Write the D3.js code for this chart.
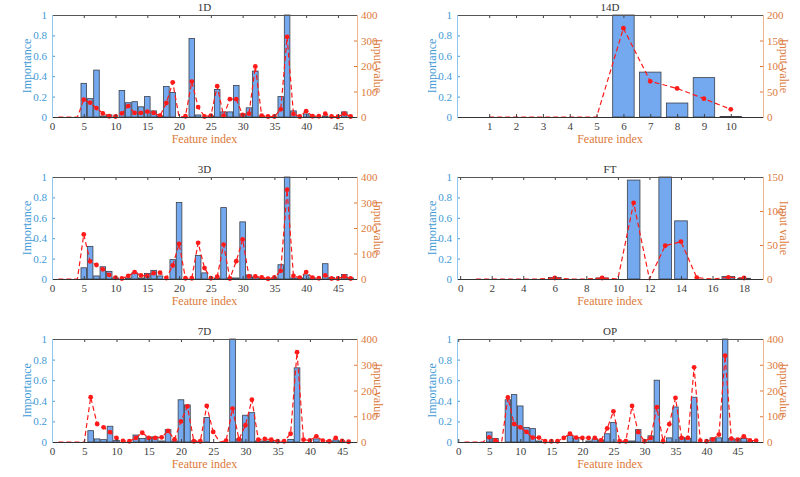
<!DOCTYPE html>
<html>
<head>
<meta charset="utf-8">
<script src="https://cdn.jsdelivr.net/npm/d3@7"></script>
<style>
  body { margin: 0; background: #fff; }
  svg { display: block; }
  svg text { font-family: "Liberation Serif", "Times New Roman", Times, serif !important; }
</style>
</head>
<body>
<div id="app"></div>
<script>
// importance (bars, left axis) and input value (red dashed, right axis), feature index = position + 1
const imp1D = [0, 0, 0, 0, 0.33, 0.18, 0.46, 0.01, 0.02, 0, 0.26, 0.14, 0.15, 0.10, 0.20, 0.06, 0.01, 0.30, 0.24, 0,
  0, 0.77, 0.02, 0, 0.01, 0.27, 0.05, 0.05, 0.31, 0.03, 0.09, 0.45, 0.01, 0, 0, 0.20, 1.0, 0.06, 0, 0.03,
  0.01, 0, 0.01, 0, 0, 0.05, 0];
const inp1D = [0, 0, 0, 0, 68, 56, 35, 14, 3, 2, 14, 43, 16, 16, 21, 16, 5, 55, 136, 0,
  3, 139, 39, 2, 5, 121, 5, 70, 70, 8, 13, 198, 5, 2, 2, 30, 314, 12, 2, 23,
  3, 3, 13, 2, 1, 13, 2];

const imp14D = [0, 0, 0, 0, 0, 1.0, 0.44, 0.137, 0.386, 0.005];
const inp14D = [0, 0, 0, 0, 0, 174, 70, 56, 36, 15];

const imp3D = [0, 0, 0, 0, 0.11, 0.32, 0.03, 0.12, 0.075, 0.01, 0, 0.01, 0.06, 0.01, 0.055, 0.085, 0.03, 0, 0.19, 0.75,
  0, 0, 0.23, 0.06, 0, 0.01, 0.70, 0.01, 0.01, 0.56, 0.04, 0.02, 0.01, 0, 0.01, 0.14, 1.0, 0.01, 0.01, 0.04,
  0.01, 0, 0.15, 0.015, 0, 0.045, 0.01];
const inp3D = [0, 0, 0, 0, 175, 69, 55, 38, 16, 5, 2, 12, 27, 14, 12, 23, 25, 4, 53, 138,
  3, 3, 142, 43, 3, 9, 135, 2, 70, 155, 10, 10, 6, 1, 6, 32, 350, 12, 5, 27,
  5, 3, 14, 2, 2, 10, 2];

const impFT = [0, 0, 0, 0, 0, 0.015, 0, 0, 0.01, 0, 0.97, 0, 1.0, 0.57, 0, 0, 0.025, 0.007];
const inpFT = [0, 0, 0, 0, 0, 1.5, 0, 0, 1.5, 0, 112, 0, 49, 55, 2, 0, 2.5, 1.5];

const imp7D = [0, 0, 0, 0, 0, 0.11, 0.03, 0.023, 0.153, 0.015, 0, 0, 0.068, 0.035, 0.05, 0.05, 0.01, 0.12, 0.01, 0.41,
  0.36, 0.01, 0, 0.237, 0, 0, 0, 1.0, 0.03, 0.26, 0.285, 0.01, 0.01, 0.01, 0, 0, 0.025, 0.72, 0, 0,
  0.03, 0, 0.01, 0.02, 0.01, 0];
const inp7D = [0, 0, 0, 0, 0, 174, 70, 57, 38, 16, 4, 3, 16, 36, 16, 16, 18, 43, 10, 80,
  138, 3, 3, 140, 39, 0, 5, 130, 10, 65, 164, 9, 12, 9, 3, 3, 32, 349, 9, 6,
  22, 5, 3, 16, 4, 1];

const impOP = [0, 0, 0, 0, 0.097, 0.035, 0, 0.41, 0.46, 0.35, 0.14, 0.13, 0.01, 0, 0, 0, 0, 0.065, 0.04, 0,
  0.01, 0.03, 0.02, 0.08, 0.19, 0, 0.01, 0.01, 0.12, 0, 0.06, 0.60, 0, 0.04, 0.34, 0.045, 0.035, 0.435, 0, 0,
  0.04, 0.04, 1.0, 0.035, 0.025, 0.035, 0.01, 0];
const inpOP = [0, 0, 0, 0, 18, 6, 0, 173, 70, 57, 39, 17, 17, 3, 3, 3, 16, 32, 17, 16,
  16, 16, 6, 53, 119, 3, 3, 140, 38, 3, 16, 135, 3, 69, 171, 16, 16, 290, 5, 3,
  10, 29, 335, 13, 9, 22, 6, 5];

// tick labels
const xTicksLong = [0, 5, 10, 15, 20, 25, 30, 35, 40, 45];
const xTicks14D = [1, 2, 3, 4, 5, 6, 7, 8, 9, 10];
const xTicksFT = [0, 2, 4, 6, 8, 10, 12, 14, 16, 18];
const impTicks = [0, 0.2, 0.4, 0.6, 0.8, 1];
const inpTicks400 = [0, 100, 200, 300, 400];
const inpTicks200 = [0, 50, 100, 150, 200];
const inpTicks150 = [0, 50, 100, 150];

const blue = '#3f9ad6';
const orange = '#dc7a3a';
const dark = '#404040';

const panels = [
  { title: '1D', imp: imp1D, inp: inp1D, xd: [0, 48], xt: xTicksLong, rmax: 400, rt: inpTicks400, bw: 0.88, col: 0, row: 0 },
  { title: '14D', imp: imp14D, inp: inp14D, xd: [-0.2, 11.2], xt: xTicks14D, rmax: 200, rt: inpTicks200, bw: 0.8, col: 1, row: 0 },
  { title: '3D', imp: imp3D, inp: inp3D, xd: [0, 48], xt: xTicksLong, rmax: 400, rt: inpTicks400, bw: 0.88, col: 0, row: 1 },
  { title: 'FT', imp: impFT, inp: inpFT, xd: [-0.2, 19.2], xt: xTicksFT, rmax: 150, rt: inpTicks150, bw: 0.8, col: 1, row: 1 },
  { title: '7D', imp: imp7D, inp: inp7D, xd: [0, 47.3], xt: xTicksLong, rmax: 400, rt: inpTicks400, bw: 0.88, col: 0, row: 2 },
  { title: 'OP', imp: impOP, inp: inpOP, xd: [-0.2, 49.1], xt: xTicksLong, rmax: 400, rt: inpTicks400, bw: 0.88, col: 1, row: 2 }
];

const cols = [[52, 357], [457, 763]];
const rows = [[15, 117], [177, 279], [339, 442]];

const svg = d3
  .select('#app')
  .append('svg')
  .attr('width', 800)
  .attr('height', 477);

panels.forEach((p) => drawPanel(p));

function drawPanel(p) {
  const [x0, x1] = cols[p.col];
  const [y0, y1] = rows[p.row];
  const g = svg.append('g');

  const x = d3.scaleLinear().domain(p.xd).range([x0, x1]);
  const yL = d3.scaleLinear().domain([0, 1]).range([y1, y0]);
  const yR = d3.scaleLinear().domain([0, p.rmax]).range([y1, y0]);
  const bw = (x(1) - x(0)) * p.bw;

  const imp = p.imp.map((v, i) => ({ f: i + 1, v: v }));
  const inp = p.inp.map((v, i) => ({ f: i + 1, v: v }));

  // bars
  g.selectAll('rect.bar')
    .data(imp.filter((d) => d.v > 0))
    .join('rect')
    .attr('class', 'bar')
    .attr('x', (d) => x(d.f) - bw / 2)
    .attr('y', (d) => yL(d.v))
    .attr('width', bw)
    .attr('height', (d) => y1 - yL(d.v))
    .attr('fill', '#74a9ef')
    .attr('stroke', '#3a3f4a')
    .attr('stroke-width', 0.8);

  // input value line
  const line = d3.line().x((d) => x(d.f)).y((d) => yR(d.v));
  g.append('path')
    .datum(inp)
    .attr('d', line)
    .attr('fill', 'none')
    .attr('stroke', '#ff1a1a')
    .attr('stroke-width', 1.2)
    .attr('stroke-dasharray', '5,3');

  g.selectAll('circle.pt')
    .data(inp.filter((d) => d.v > 0))
    .join('circle')
    .attr('class', 'pt')
    .attr('cx', (d) => x(d.f))
    .attr('cy', (d) => yR(d.v))
    .attr('r', 2.4)
    .attr('fill', '#ff1a1a');

  // axes
  const gx = g.append('g')
    .attr('transform', `translate(0,${y1})`)
    .call(d3.axisBottom(x).tickValues(p.xt).tickSize(-3).tickPadding(5));
  gx.selectAll('text').attr('fill', dark);
  gx.selectAll('line').attr('stroke', dark);

  const gt = g.append('g')
    .attr('transform', `translate(0,${y0})`)
    .call(d3.axisTop(x).tickValues(p.xt).tickSize(-3).tickFormat(''));
  gt.selectAll('line').attr('stroke', dark);

  const gl = g.append('g')
    .attr('transform', `translate(${x0},0)`)
    .call(d3.axisLeft(yL).tickValues(impTicks).tickSize(-3).tickPadding(5).tickFormat(d3.format('~g')));
  gl.selectAll('text').attr('fill', blue);
  gl.selectAll('line').attr('stroke', blue);

  const gr = g.append('g')
    .attr('transform', `translate(${x1},0)`)
    .call(d3.axisRight(yR).tickValues(p.rt).tickSize(-3).tickPadding(4));
  gr.selectAll('text').attr('fill', orange);
  gr.selectAll('line').attr('stroke', orange);

  [gx, gl, gr].forEach((a) => a.attr('font-size', 11));
  g.selectAll('.domain').remove();

  // box
  g.append('line').attr('x1', x0).attr('x2', x1).attr('y1', y0 + 0.5).attr('y2', y0 + 0.5).attr('stroke', '#555');
  g.append('line').attr('x1', x0).attr('x2', x1).attr('y1', y1 + 0.5).attr('y2', y1 + 0.5).attr('stroke', '#333');
  g.append('line').attr('x1', x0 + 0.5).attr('x2', x0 + 0.5).attr('y1', y0).attr('y2', y1 + 1).attr('stroke', '#8fc6ee');
  g.append('line').attr('x1', x1 + 0.5).attr('x2', x1 + 0.5).attr('y1', y0).attr('y2', y1 + 1).attr('stroke', '#f0b690');

  // labels
  g.append('text')
    .attr('x', (x0 + x1) / 2)
    .attr('y', y0 - 4)
    .attr('text-anchor', 'middle')
    .attr('font-size', 11)
    .attr('fill', '#333')
    .text(p.title);

  g.append('text')
    .attr('x', (x0 + x1) / 2)
    .attr('y', y1 + 26)
    .attr('text-anchor', 'middle')
    .attr('font-size', 12)
    .attr('fill', orange)
    .text('Feature index');

  g.append('text')
    .attr('transform', `translate(${x0 - 25},${(y0 + y1) / 2}) rotate(-90)`)
    .attr('text-anchor', 'middle')
    .attr('dy', '0.35em')
    .attr('font-size', 12)
    .attr('fill', blue)
    .text('Importance');

  g.append('text')
    .attr('transform', `translate(${x1 + 21},${(y0 + y1) / 2}) rotate(90)`)
    .attr('text-anchor', 'middle')
    .attr('dy', '0.35em')
    .attr('font-size', 12)
    .attr('fill', orange)
    .text('Input value');
}
</script>
</body>
</html>
